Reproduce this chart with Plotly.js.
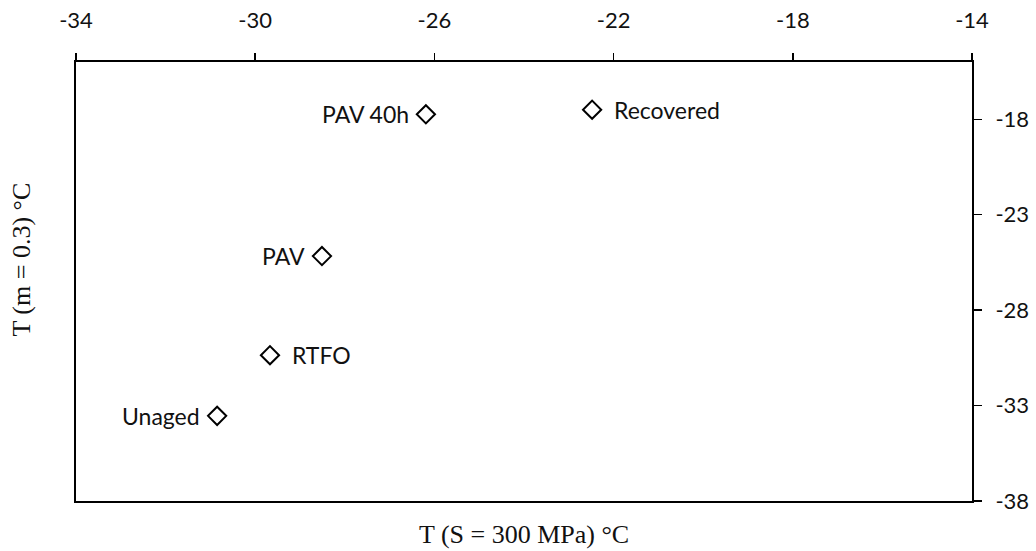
<!DOCTYPE html>
<html>
<head>
<meta charset="utf-8">
<script src="https://cdn.plot.ly/plotly-3.0.1.min.js"></script>
<style>html,body{margin:0;padding:0;background:#fff;}#chart{width:1036px;height:551px;}</style>
</head>
<body>
<div id="chart"></div>
<script>
const labels = ["Unaged", "RTFO", "PAV", "PAV 40h", "Recovered"];
const tS300 = [-30.85, -29.67, -28.51, -26.19, -22.48];
const tM03 = [-33.54, -30.36, -25.17, -17.74, -17.5];
const labelSide = ["left", "right", "left", "left", "right"];
const xTickVals = [-34, -30, -26, -22, -18, -14];
const yTickVals = [-18, -23, -28, -33, -38];

const labelFont = {family: "Lato, 'Open Sans', sans-serif", size: 22, color: "#111"};
const pointFont = {family: "Lato, 'Open Sans', sans-serif", size: 23, color: "#111"};
const titleFont = {family: "'Liberation Serif', 'Times New Roman', serif", size: 26, color: "#111"};

const trace = {
  x: tS300, y: tM03, type: "scatter", mode: "markers",
  marker: {symbol: "diamond-open", size: 14, color: "#000", line: {width: 2, color: "#000"}},
  hoverinfo: "skip", showlegend: false
};

const annotations = labels.map((t, i) => ({
  x: tS300[i], y: tM03[i], xref: "x", yref: "y", text: t, showarrow: false,
  xanchor: labelSide[i] === "left" ? "right" : "left",
  xshift: labelSide[i] === "left" ? -15 : 20,
  yshift: 0,
  font: pointFont
}));
annotations.push({
  xref: "paper", yref: "paper", x: 0.5, y: 0, yshift: -33, yanchor: "middle",
  text: "T (S = 300 MPa) °C", showarrow: false, font: titleFont
});
annotations.push({
  xref: "paper", yref: "paper", x: 0, y: 0.55, xshift: -54, xanchor: "center", yanchor: "middle",
  text: "T (m = 0.3) °C", textangle: -90, showarrow: false, font: titleFont
});

const layout = {
  width: 1036, height: 551,
  margin: {l: 76, r: 64, t: 62, b: 50, pad: 0},
  paper_bgcolor: "#fff", plot_bgcolor: "#fff",
  font: labelFont,
  xaxis: {
    range: [-34, -14], side: "top", tickvals: xTickVals, ticktext: xTickVals.map(String),
    ticks: "outside", ticklen: 7, tickwidth: 1.5, tickcolor: "#000",
    showline: true, linewidth: 2, linecolor: "#000", mirror: true,
    showgrid: false, zeroline: false, tickfont: labelFont, ticklabelstandoff: 16
  },
  yaxis: {
    range: [-38, -15], side: "right", tickvals: yTickVals, ticktext: yTickVals.map(String),
    ticks: "outside", ticklen: 8, tickwidth: 1.5, tickcolor: "#000",
    showline: true, linewidth: 2, linecolor: "#000", mirror: true,
    showgrid: false, zeroline: false, tickfont: labelFont, ticklabelstandoff: 9
  },
  annotations: annotations
};

Plotly.newPlot("chart", [trace], layout, {displayModeBar: false, staticPlot: true});
</script>
</body>
</html>
